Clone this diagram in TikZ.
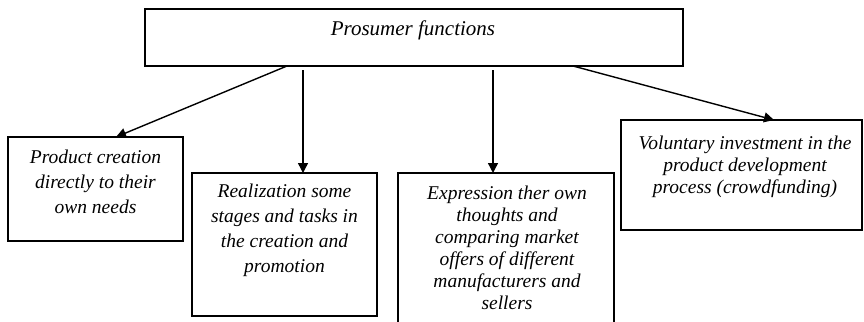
\documentclass[tikz,border=0pt]{standalone}
\usepackage{fontspec}
\setmainfont{Liberation Serif}
\usetikzlibrary{arrows.meta,calc}
\begin{document}
\begin{tikzpicture}[x=1pt,y=-1pt,
  box/.style={draw,line width=1.4pt,inner sep=0pt,outer sep=0pt,anchor=north west},
  lblA/.style={align=center,inner sep=0pt,font=\fontsize{19.5}{25}\selectfont\itshape},
  lblB/.style={align=center,inner sep=0pt,font=\fontsize{19.5}{22}\selectfont\itshape},
  arr/.style={line width=1.4pt,-{Triangle[length=10pt,width=10pt]}}]
\useasboundingbox (0,0) rectangle (864,321);
\node[box,minimum width=538pt,minimum height=57pt] (top) at (145,9) {};
\node[box,minimum width=175pt,minimum height=104pt] (b1) at (8,137) {};
\node[box,minimum width=185pt,minimum height=143pt] (b2) at (192,173) {};
\node[box,minimum width=216pt,minimum height=160pt] (b3) at (398,173) {};
\node[box,minimum width=241pt,minimum height=110pt] (b4) at (621,120) {};
\node[inner sep=0pt,font=\fontsize{21}{24}\selectfont\itshape] (t0) at (413,30) {Prosumer functions};
\node[lblA] (t1) at (95.5,181.5) {Product creation\\directly to their\\own needs};
\node[lblA] (t2) at (284.5,230) {Realization some\\stages and tasks in\\the creation and\\promotion};
\node[lblB] (t3) at (507,247.5) {Expression ther own\\thoughts and\\comparing market\\offers of different\\manufacturers and\\sellers};
\node[lblB] (t4) at (745,167) {Voluntary investment in the\\product development\\process (crowdfunding)};
\draw[arr] ($(top.south west)+(142,0)$) -- ($(b1.north west)+(108,0)$);
\draw[arr,shorten <=4pt] ($(top.south west)+(158,0)$) -- ($(b2.north west)+(111,0)$);
\draw[arr,shorten <=4pt] ($(top.south west)+(348,0)$) -- ($(b3.north west)+(95,0)$);
\draw[arr] ($(top.south west)+(428,0)$) -- ($(b4.north west)+(153,0)$);
\end{tikzpicture}
\end{document}
